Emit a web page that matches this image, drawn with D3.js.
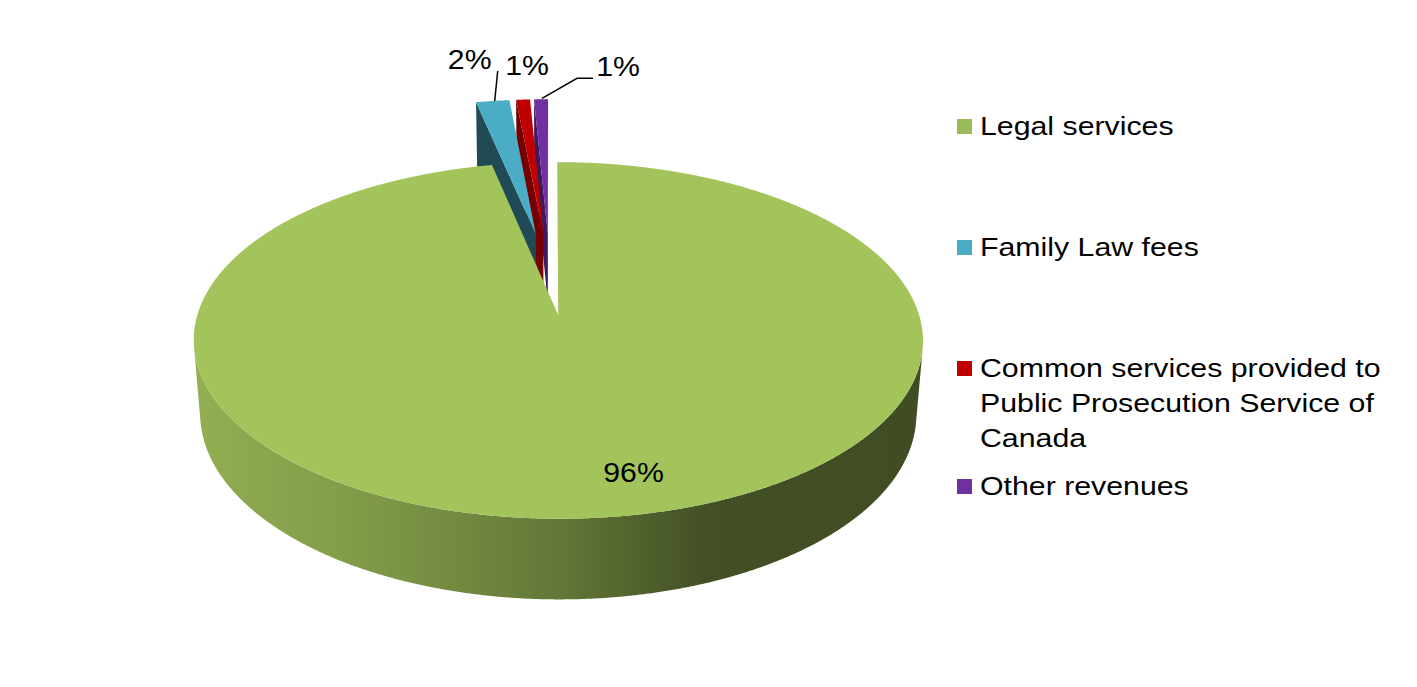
<!DOCTYPE html>
<html>
<head>
<meta charset="utf-8">
<script src="https://cdn.jsdelivr.net/npm/d3@7"></script>
<style>
  body { margin: 0; background: #fff; }
  svg { display: block; font-family: "Liberation Sans", Arial, sans-serif; }
</style>
</head>
<body>
<svg id="chart" width="1417" height="687"></svg>
<script>
// ---------------------------
// Data
// ---------------------------
const categories = [
  "Legal services",
  "Family Law fees",
  "Common services provided to Public Prosecution Service of Canada",
  "Other revenues"
];
const shares = [96.7, 1.8, 0.75, 0.75];
const pctLabels = ["96%", "2%", "1%", "1%"];

// ---------------------------
// Style / layout
// ---------------------------
const topColors = ["#a3c35b", "#4bacc6", "#c00000", "#7030a0"];
const faceColors = ["#5f7a33", "#1f4a56", "#760000", "#40185c"];
const legendColors = ["#9bbb59", "#4bacc6", "#c00000", "#7030a0"];
const explode = [0.22, 0.28, 0.28, 0.28];

// 3D view: tilt, perspective distance (in radius units), depth of the pie
const view = { cx: 550, cy: 278, k: 350, tilt: 28 * Math.PI / 180, dist: 6.4, depth: 0.235 };

// label placement relative to the slice anchor (px)
const labelOffsets = [[43, 21], [-23, -32], [4, -25], [77, -23]];
const leaders = [null, [[5, -30], [2, 0]], null, [[52, -21], [36, -21], [1, -1]]];
const labelStretch = 1.08;

// legend text in the source is drawn a bit wider than the font's natural width
const legend = { x: 957, textX: 980, baselines: [135, 256, 377, 495], lineH: 35, maxW: 415, stretch: 1.165 };

const svg = d3.select("#chart");
const defs = svg.append("defs");

const ct = Math.cos(view.tilt), st = Math.sin(view.tilt);
const cam = [0, view.dist * st, view.dist * ct];

function project(X, Y, Z) {
  const u = Y * ct - Z * st;
  const w = Y * st + Z * ct;
  const s = 1 / (1 - w / view.dist);
  return [view.cx + view.k * X * s, view.cy - view.k * u * s];
}

function arcPts(a0, a1, off, Y) {
  const n = Math.max(2, Math.ceil((a1 - a0) / 0.004));
  return d3.range(n + 1).map(i => {
    const a = a0 + (a1 - a0) * i / n;
    return project(off[0] + Math.sin(a), Y, off[1] - Math.cos(a));
  });
}

function wallVisible(a, off) {
  const nx = Math.sin(a), nz = -Math.cos(a);
  return nz * cam[2] - (nx * (off[0] + nx) + nz * (off[1] + nz)) > 0;
}

function faceVisible(nx, nz, off) {
  return nx * (cam[0] - off[0]) + nz * (cam[2] - off[1]) > 0;
}

const line = d3.line();
const poly = pts => line(pts) + "Z";

const pie = d3.pie().sort(null).value(d => d)
  .startAngle(0).endAngle(2 * Math.PI);

const slices = pie(shares).map((d, i) => {
  const mid = (d.startAngle + d.endAngle) / 2;
  const off = [explode[i] * Math.sin(mid), -explode[i] * Math.cos(mid)];
  const depthKey = (off[1] - 0.5 * Math.cos(mid)) * ct;
  return { ...d, i, mid, off, depthKey };
});

// wall gradient (horizontal shading)
const wallStops = [[0, 0.3], [0.25, 0.7], [0.5, 1.39], [0.7, 2.5], [1, 2.64]];
slices.forEach(s => {
  const g = defs.append("linearGradient")
    .attr("id", `wall-${s.i}`)
    .attr("x1", 0).attr("x2", 1).attr("y1", 0).attr("y2", 0);
  wallStops.forEach(([o, k]) => {
    g.append("stop").attr("offset", o)
      .attr("stop-color", d3.color(topColors[s.i]).darker(k).formatHex());
  });
});

const pieG = svg.append("g").attr("class", "pie");
const H = -view.depth;

slices.slice().sort((a, b) => a.depthKey - b.depthKey).forEach(s => {
  const g = pieG.append("g").attr("class", `slice slice-${s.i}`);
  const { startAngle: a0, endAngle: a1, off } = s;

  // outer wall, only the runs facing the viewer
  const n = Math.max(2, Math.ceil((a1 - a0) / 0.004));
  const angles = d3.range(n + 1).map(j => a0 + (a1 - a0) * j / n);
  let run = [];
  const runs = [];
  angles.forEach(a => {
    if (wallVisible(a, off)) run.push(a);
    else if (run.length) { runs.push(run); run = []; }
  });
  if (run.length) runs.push(run);
  runs.forEach(r => {
    const top = r.map(a => project(off[0] + Math.sin(a), 0, off[1] - Math.cos(a)));
    const bot = r.map(a => project(off[0] + Math.sin(a), H, off[1] - Math.cos(a))).reverse();
    g.append("path").attr("d", poly(top.concat(bot)))
      .attr("fill", `url(#wall-${s.i})`);
  });

  // radial cut faces
  const faces = [
    { a: a0, n: [-Math.cos(a0), -Math.sin(a0)] },
    { a: a1, n: [Math.cos(a1), Math.sin(a1)] }
  ];
  if (s.endAngle - s.startAngle < Math.PI) {
    faces.forEach(f => {
      if (!faceVisible(f.n[0], f.n[1], off)) return;
      const ox = off[0] + Math.sin(f.a), oz = off[1] - Math.cos(f.a);
      const pts = [
        project(off[0], 0, off[1]),
        project(ox, 0, oz),
        project(ox, H, oz),
        project(off[0], H, off[1])
      ];
      g.append("path").attr("d", poly(pts)).attr("fill", faceColors[s.i]);
    });
  }

  // top face
  const topPts = [project(off[0], 0, off[1])].concat(arcPts(a0, a1, off, 0));
  g.append("path").attr("d", poly(topPts)).attr("fill", topColors[s.i]);
});

// ---------------------------
// Data labels
// ---------------------------
const labelG = svg.append("g").attr("class", "labels");
slices.forEach(s => {
  const r = s.i === 0 ? 0.75 : 1;
  const anchor = project(s.off[0] + r * Math.sin(s.mid), 0, s.off[1] - r * Math.cos(s.mid));
  const [dx, dy] = labelOffsets[s.i];
  labelG.append("text")
    .attr("transform", `translate(${anchor[0] + dx},${anchor[1] + dy}) scale(${labelStretch},1)`)
    .attr("text-anchor", "middle")
    .attr("font-size", 28)
    .attr("fill", "#000")
    .text(pctLabels[s.i]);
  if (leaders[s.i]) {
    labelG.append("path")
      .attr("d", line(leaders[s.i].map(([x, y]) => [anchor[0] + x, anchor[1] + y])))
      .attr("fill", "none")
      .attr("stroke", "#000")
      .attr("stroke-width", 1.5);
  }
});

// ---------------------------
// Legend
// ---------------------------
const legG = svg.append("g").attr("class", "legend");
categories.forEach((name, i) => {
  const y0 = legend.baselines[i];
  legG.append("rect")
    .attr("x", legend.x).attr("y", y0 - 16)
    .attr("width", 15).attr("height", 15)
    .attr("fill", legendColors[i]);

  const text = legG.append("text")
    .attr("transform", `translate(${legend.textX},${y0}) scale(${legend.stretch},1)`)
    .attr("font-size", 26).attr("fill", "#000");

  // simple word wrap (width measured before the horizontal stretch)
  const maxW = legend.maxW / legend.stretch;
  const words = name.split(" ");
  let lineNo = 0;
  let tspan = text.append("tspan").attr("x", 0).attr("y", 0);
  let current = [];
  words.forEach(w => {
    current.push(w);
    tspan.text(current.join(" "));
    if (tspan.node().getComputedTextLength() > maxW && current.length > 1) {
      current.pop();
      tspan.text(current.join(" "));
      current = [w];
      lineNo++;
      tspan = text.append("tspan").attr("x", 0)
        .attr("y", lineNo * legend.lineH).text(w);
    }
  });
});
</script>
</body>
</html>
